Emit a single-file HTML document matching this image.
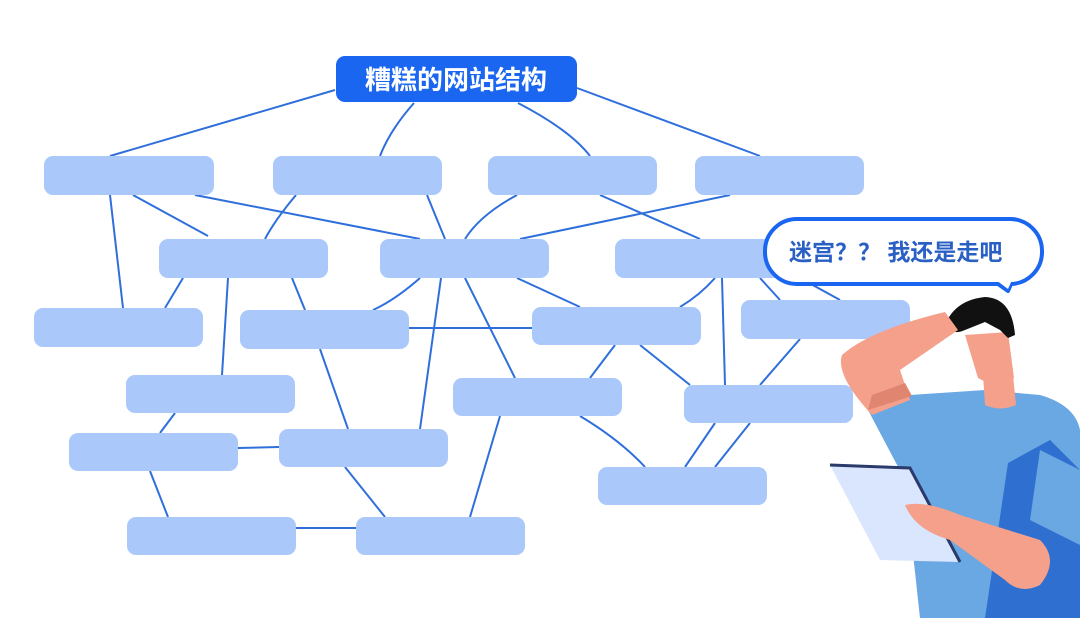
<!DOCTYPE html>
<html><head><meta charset="utf-8"><style>
html,body{margin:0;padding:0;background:#fff;width:1080px;height:618px;overflow:hidden}
svg{display:block}
</style></head><body>
<svg width="1080" height="618" viewBox="0 0 1080 618" xmlns="http://www.w3.org/2000/svg">
<g stroke="#2f6fdc" stroke-width="2" fill="none">
<path d="M335 90 L110 156"/>
<path d="M414 103 Q390 130 380 156"/>
<path d="M518 103 Q570 130 590 156"/>
<path d="M577 88 L760 156"/>
<path d="M110 195 L123 308"/>
<path d="M133 195 L208 236"/>
<path d="M195 195 L420 239"/>
<path d="M296 195 Q275 220 265 239"/>
<path d="M427 195 L445 239"/>
<path d="M517 195 Q480 215 465 239"/>
<path d="M600 195 L700 239"/>
<path d="M730 195 L520 239"/>
<path d="M183 278 L165 308"/>
<path d="M228 278 L222 375"/>
<path d="M292 278 L305 310"/>
<path d="M420 278 Q395 300 373 310"/>
<path d="M441 278 L420 429"/>
<path d="M465 278 L515 378"/>
<path d="M517 278 L580 307"/>
<path d="M409 328 L532 328"/>
<path d="M320 349 L348 429"/>
<path d="M615 345 L590 378"/>
<path d="M640 345 L690 385"/>
<path d="M715 278 Q700 295 680 307"/>
<path d="M722 278 L725 385"/>
<path d="M760 278 L780 300"/>
<path d="M800 339 L760 385"/>
<path d="M175 413 L160 433"/>
<path d="M238 448 L279 447"/>
<path d="M150 471 L168 517"/>
<path d="M345 467 L385 517"/>
<path d="M296 528 L356 528"/>
<path d="M500 416 L470 517"/>
<path d="M580 416 Q620 440 645 467"/>
<path d="M715 423 L685 467"/>
<path d="M750 423 L715 467"/>
<path d="M800 278 L840 300"/>
</g>
<g fill="#abc8fb">
<rect x="44" y="156" width="170" height="39" rx="9"/>
<rect x="273" y="156" width="169" height="39" rx="9"/>
<rect x="488" y="156" width="169" height="39" rx="9"/>
<rect x="695" y="156" width="169" height="39" rx="9"/>
<rect x="159" y="239" width="169" height="39" rx="9"/>
<rect x="380" y="239" width="169" height="39" rx="9"/>
<rect x="615" y="239" width="169" height="39" rx="9"/>
<rect x="34" y="308" width="169" height="39" rx="9"/>
<rect x="240" y="310" width="169" height="39" rx="9"/>
<rect x="532" y="307" width="169" height="38" rx="9"/>
<rect x="741" y="300" width="169" height="39" rx="9"/>
<rect x="126" y="375" width="169" height="38" rx="9"/>
<rect x="453" y="378" width="169" height="38" rx="9"/>
<rect x="684" y="385" width="169" height="38" rx="9"/>
<rect x="69" y="433" width="169" height="38" rx="9"/>
<rect x="279" y="429" width="169" height="38" rx="9"/>
<rect x="598" y="467" width="169" height="38" rx="9"/>
<rect x="127" y="517" width="169" height="38" rx="9"/>
<rect x="356" y="517" width="169" height="38" rx="9"/>
</g>
<rect x="336" y="56" width="241" height="46" rx="9" fill="#1a66f0"/>
<text x="456" y="89" text-anchor="middle" font-family="'Liberation Sans','Noto Sans CJK SC',sans-serif" font-size="26" font-weight="bold" fill="#fff">糟糕的网站结构</text>
<path d="M998 284 L1008 291 L1012 282" fill="#fff" stroke="#1a66f0" stroke-width="4" stroke-linejoin="round"/>
<rect x="765" y="219" width="277" height="65" rx="32" fill="#fff" stroke="#1a66f0" stroke-width="4"/>
<path d="M996 280 L1008 289 L1012 280 Z" fill="#fff"/>
<text x="789" y="260" font-family="'Liberation Sans','Noto Sans CJK SC',sans-serif" font-size="23" font-weight="bold" fill="#2a5fc4">迷宫？？ 我还是走吧</text>
<path d="M868 410 L910 395 L985 390 L1040 395 Q1075 405 1080 430 L1080 618 L920 618 L905 480 Z" fill="#6aa8e4"/>
<path d="M1008 463 L1050 440 L1080 470 L1080 618 L985 618 Z" fill="#2f6fd0"/>
<path d="M1040 450 L1080 470 L1080 545 L1030 520 Z" fill="#6aa8e4"/>
<path d="M983 375 L1013 375 L1016 405 Q1000 412 985 405 Z" fill="#f4a08a"/>
<path d="M965 335 L1008 332 L1014 378 Q1000 390 978 378 Z" fill="#f4a08a"/>
<path d="M945 325 Q955 300 985 297 Q1012 298 1015 335 L1008 338 L1000 330 L985 322 L965 330 Q952 336 945 325 Z" fill="#111"/>
<path d="M872 415 Q835 375 842 355 Q870 330 945 312 L958 330 L900 370 L910 400 Z" fill="#f4a08a"/>
<path d="M868 410 L912 396 L905 383 L872 395 Z" fill="#e08670"/>
<path d="M830 465 L910 468 L960 562 L880 560 Z" fill="#dae6fd"/>
<path d="M830 465 L910 468 L960 562" fill="none" stroke="#2a3a6a" stroke-width="3"/>
<path d="M905 505 Q925 500 960 515 L1040 540 Q1060 560 1040 585 Q1020 595 1005 580 L950 540 Q915 530 905 505 Z" fill="#f4a08a"/>
</svg>
</body></html>
